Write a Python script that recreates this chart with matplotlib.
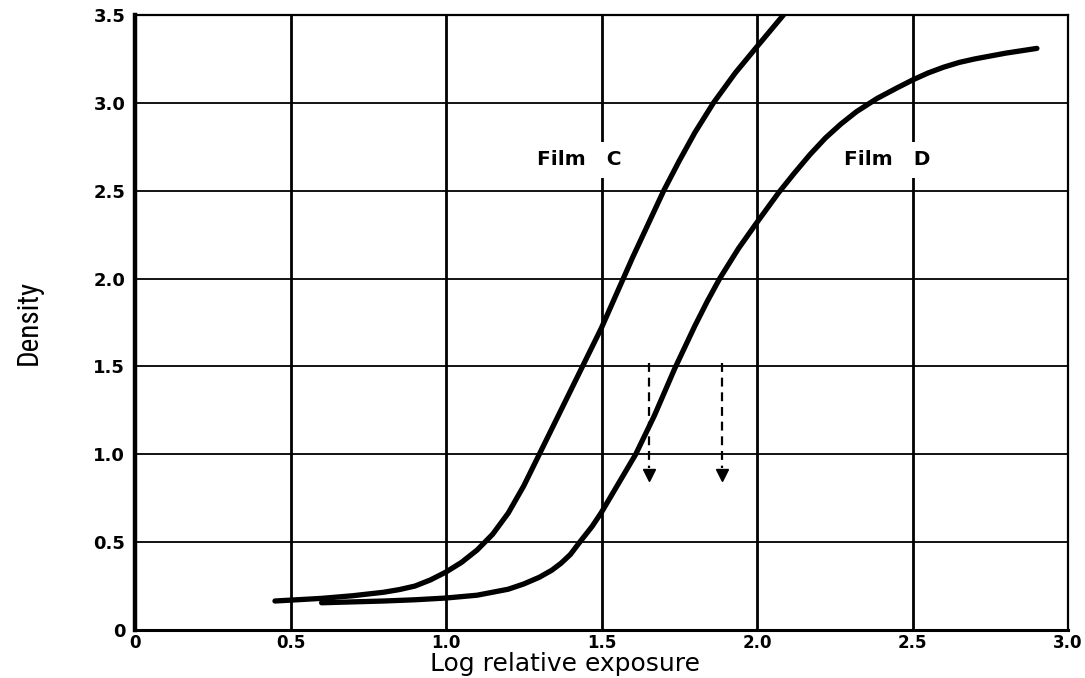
import matplotlib
matplotlib.use("Agg")
import matplotlib.pyplot as plt

# Characteristic (H&D) curves: log relative exposure vs. density
film_c_logE = [0.45, 0.50, 0.60, 0.70, 0.80, 0.85, 0.90, 0.95, 1.00, 1.05,
               1.10, 1.15, 1.20, 1.25, 1.30, 1.35, 1.40, 1.45, 1.50, 1.55,
               1.60, 1.65, 1.70, 1.75, 1.80, 1.86, 1.93, 2.00, 2.085]
film_c_density = [0.165, 0.17, 0.18, 0.195, 0.215, 0.23, 0.25, 0.285, 0.33, 0.385,
                  0.455, 0.545, 0.665, 0.82, 1.00, 1.18, 1.36, 1.54, 1.72, 1.92,
                  2.12, 2.31, 2.50, 2.67, 2.83, 3.00, 3.17, 3.32, 3.50]

film_d_logE = [0.60, 0.70, 0.80, 0.90, 1.00, 1.10, 1.20, 1.25, 1.30, 1.34,
               1.37, 1.40, 1.43, 1.47, 1.50, 1.55, 1.61, 1.67, 1.736, 1.80,
               1.84, 1.88, 1.94, 2.00, 2.07, 2.12, 2.17, 2.22, 2.27, 2.32,
               2.386, 2.45, 2.50, 2.55, 2.60, 2.65, 2.70, 2.80, 2.90]
film_d_density = [0.155, 0.16, 0.165, 0.172, 0.182, 0.198, 0.232, 0.262, 0.30, 0.34,
                  0.38, 0.43, 0.50, 0.59, 0.67, 0.82, 1.00, 1.22, 1.49, 1.73,
                  1.87, 2.00, 2.17, 2.32, 2.49, 2.60, 2.705, 2.80, 2.88, 2.95,
                  3.025, 3.085, 3.13, 3.17, 3.203, 3.23, 3.25, 3.283, 3.31]

curve_labels = ["Film   C", "Film   D"]
label_logE = [1.43, 2.42]
label_density = [2.675, 2.675]

# Dashed arrows marking the exposure shift
arrow_logE = [1.653, 1.887]
arrow_from = 1.52
arrow_to = 0.86

x_ticks = [0, 0.5, 1.0, 1.5, 2.0, 2.5, 3.0]
x_tick_labels = ["0", "0.5", "1.0", "1.5", "2.0", "2.5", "3.0"]
y_ticks = [0, 0.5, 1.0, 1.5, 2.0, 2.5, 3.0, 3.5]
y_tick_labels = ["0", "0.5", "1.0", "1.5", "2.0", "2.5", "3.0", "3.5"]

fig = plt.figure(figsize=(10.85, 6.78), dpi=100)
ax = fig.add_axes([135 / 1085, 48 / 678, 933 / 1085, 615 / 678])

ax.set_xlim(0, 3.0)
ax.set_ylim(0, 3.5)
ax.set_xticks(x_ticks)
ax.set_xticklabels(x_tick_labels, fontsize=12, fontweight="bold")
ax.set_yticks(y_ticks)
ax.set_yticklabels(y_tick_labels, fontsize=13, fontweight="bold")
ax.tick_params(axis="x", length=0, pad=3)
ax.tick_params(axis="y", length=0, pad=7)

ax.grid(axis="x", color="black", linewidth=2.0, zorder=1)
ax.grid(axis="y", color="black", linewidth=1.3, zorder=1)
ax.set_axisbelow(True)

for side, lw in (("left", 3.2), ("bottom", 2.2), ("top", 1.6), ("right", 1.6)):
    ax.spines[side].set_linewidth(lw)
    ax.spines[side].set_color("black")

ax.plot(film_c_logE, film_c_density, color="black", linewidth=3.8,
        solid_capstyle="round", solid_joinstyle="round", zorder=4)
ax.plot(film_d_logE, film_d_density, color="black", linewidth=3.8,
        solid_capstyle="round", solid_joinstyle="round", zorder=4)

for name, lx, ly in zip(curve_labels, label_logE, label_density):
    ax.text(lx, ly, name, ha="center", va="center", fontsize=14.5,
            fontweight="bold", zorder=3,
            bbox=dict(boxstyle="square,pad=0.4", facecolor="white",
                      edgecolor="none"))

for ax_x in arrow_logE:
    ax.plot([ax_x, ax_x], [arrow_from, arrow_to + 0.06], color="black",
            linewidth=1.6, dashes=(4.0, 2.6), zorder=5)
    ax.plot([ax_x], [arrow_to + 0.02], marker="v", markersize=8,
            color="black", linestyle="none", zorder=5)

ax.set_xlabel("Log relative exposure", fontsize=18)
ax.xaxis.set_label_coords(0.461, -0.036)
ax.set_ylabel("Density", fontsize=21,
              family=["Liberation Sans Narrow", "DejaVu Sans Condensed",
                      "Noto Sans Condensed", "Roboto Condensed", "DejaVu Sans"],
              fontstretch="condensed")
ax.yaxis.set_label_coords(-0.0986, 0.5)

fig.savefig("out.png", dpi=100, facecolor="white")
